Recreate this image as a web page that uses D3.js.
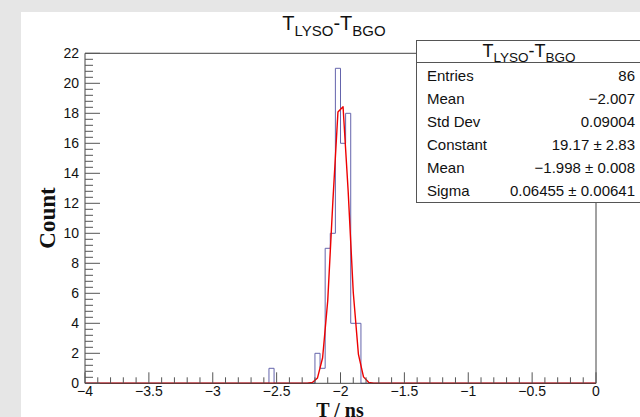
<!DOCTYPE html>
<html><head><meta charset="utf-8">
<script src="https://cdn.jsdelivr.net/npm/d3@7"></script>
<style>
html,body{margin:0;padding:0;background:#e6e6e6;overflow:hidden}
svg{display:block}
</style></head>
<body>
<script>
// ---- data ----
const xDomain = [-4, 0];
const yDomain = [0, 22];
const binWidth = 0.04;
// non-empty bins (low edge) and their counts
const binLow = [-2.56, -2.20, -2.16, -2.12, -2.08, -2.04, -2.00, -1.96, -1.92, -1.88];
const binCount = [1, 2, 1, 9, 10, 21, 16, 18, 4, 4];
// Gaussian fit curve sampled at bin centres (non-negligible part)
const fitX = [-4.00, -2.30, -2.26, -2.22, -2.18, -2.14, -2.10, -2.06, -2.02, -1.98, -1.94, -1.90, -1.86, -1.82, -1.78, -1.74, -1.70, 0.00];
const fitY = [0, 0.0003, 0.005, 0.052, 0.360, 1.704, 5.50, 12.09, 18.09, 18.44, 12.80, 6.05, 1.950, 0.428, 0.064, 0.0065, 0.0005, 0];
const xTicks = [-4, -3.5, -3, -2.5, -2, -1.5, -1, -0.5, 0];
const yTicks = [0, 2, 4, 6, 8, 10, 12, 14, 16, 18, 20, 22];
const statsLabels = ["Entries", "Mean", "Std Dev", "Constant", "Mean", "Sigma"];
const statsValues = ["86", "\u22122.007", "0.09004", "19.17 \u00b1 2.83", "\u22121.998 \u00b1 0.008", "0.06455 \u00b1 0.00641"];

// ---- layout ----
const W = 640, H = 417;
const svg = d3.select("body").append("svg").attr("width", W).attr("height", H);
svg.append("rect").attr("x", 21).attr("y", 12).attr("width", W - 21).attr("height", H - 12).attr("fill", "#ffffff");

const x = d3.scaleLinear().domain(xDomain).range([85, 596]);
const y = d3.scaleLinear().domain(yDomain).range([383.3, 53.3]);
const font = "'Liberation Sans', Arial, Helvetica, sans-serif";
const serif = "'Liberation Serif', 'Times New Roman', serif";

// histogram outline (full range, step)
const nb = Math.round((xDomain[1] - xDomain[0]) / binWidth);
const allCounts = new Array(nb).fill(0);
binLow.forEach((b, i) => { allCounts[Math.round((b - xDomain[0]) / binWidth)] = binCount[i]; });
const pts = [[x(xDomain[0]), y(0)]];
allCounts.forEach((c, i) => {
  const lo = xDomain[0] + i * binWidth, hi = lo + binWidth;
  pts.push([x(lo), y(c)]); pts.push([x(hi), y(c)]);
});
pts.push([x(xDomain[1]), y(0)]);
svg.append("path").attr("d", d3.line()(pts)).attr("fill", "none")
  .attr("stroke", "#6464ac").attr("stroke-width", 1);

// fit curve
svg.append("path")
  .attr("d", d3.line().x((d, i) => x(fitX[i])).y(d => y(d))(fitY))
  .attr("fill", "none").attr("stroke", "#ee0000").attr("stroke-width", 1.4)
  .attr("stroke-linejoin", "round");

// frame
svg.append("path")
  .attr("d", `M${x(0)},203 L${x(0)},${y(0)} L${x(-4)},${y(0)} L${x(-4)},${y(22)} L416,${y(22)}`)
  .attr("fill", "none").attr("stroke", "#444").attr("stroke-width", 1);

// x axis ticks
const gx = svg.append("g");
d3.range(0, 41).forEach(i => {
  const v = xDomain[0] + i * 0.1;
  const major = i % 5 === 0;
  gx.append("line").attr("x1", x(v)).attr("x2", x(v))
    .attr("y1", y(0)).attr("y2", y(0) - (major ? 11 : 6))
    .attr("stroke", "#555").attr("stroke-width", 1);
});
xTicks.forEach(v => {
  gx.append("text").attr("x", x(v)).attr("y", 396).attr("text-anchor", "middle")
    .attr("font-family", font).attr("font-size", 14).attr("fill", "#111")
    .text(d3.format("")(v).replace("-", "\u2212"));
});
// y axis ticks
const gy = svg.append("g");
d3.range(0, 56).forEach(i => {
  const v = i * 0.4;
  if (v > 22.001) return;
  const major = i % 5 === 0;
  gy.append("line").attr("x1", x(-4)).attr("x2", x(-4) + (major ? 15 : 8))
    .attr("y1", y(v)).attr("y2", y(v)).attr("stroke", "#555").attr("stroke-width", 1);
});
yTicks.forEach(v => {
  gy.append("text").attr("x", 79).attr("y", y(v) + 4.5).attr("text-anchor", "end")
    .attr("font-family", font).attr("font-size", 14).attr("fill", "#111").text(v);
});

// axis titles
svg.append("text").attr("x", 340).attr("y", 417).attr("text-anchor", "middle")
  .attr("font-family", serif).attr("font-weight", "bold").attr("font-size", 20).attr("fill", "#111")
  .text("T / ns");
svg.append("text").attr("transform", "translate(55,218) rotate(-90)").attr("text-anchor", "middle")
  .attr("font-family", serif).attr("font-weight", "bold").attr("font-size", 23).attr("fill", "#111")
  .text("Count");

// title with subscripts
function subTitle(g, cx, by, size) {
  const t = g.append("text").attr("x", cx).attr("y", by).attr("text-anchor", "middle")
    .attr("font-family", font).attr("font-size", size).attr("fill", "#111");
  t.append("tspan").text("T");
  t.append("tspan").attr("font-size", size * 0.75).attr("dy", size * 0.28).text("LYSO");
  t.append("tspan").attr("dy", -size * 0.28).text("-T");
  t.append("tspan").attr("font-size", size * 0.75).attr("dy", size * 0.28).text("BGO");
  return t;
}
subTitle(svg, 334, 30, 20);

// stats box
const sb = svg.append("g");
sb.append("rect").attr("x", 416.5).attr("y", 40.5).attr("width", 230).attr("height", 162)
  .attr("fill", "#fff").attr("stroke", "#555").attr("stroke-width", 1);
sb.append("line").attr("x1", 416.5).attr("x2", 640).attr("y1", 62.5).attr("y2", 62.5)
  .attr("stroke", "#555").attr("stroke-width", 1);
subTitle(sb, 529, 57, 18);
statsLabels.forEach((l, i) => {
  const yy = 80.5 + i * 23;
  sb.append("text").attr("x", 427).attr("y", yy).attr("font-family", font)
    .attr("font-size", 15).attr("fill", "#111").text(l);
  sb.append("text").attr("x", 635).attr("y", yy).attr("text-anchor", "end").attr("font-family", font)
    .attr("font-size", 15).attr("fill", "#111").text(statsValues[i]);
});
</script>
</body></html>
